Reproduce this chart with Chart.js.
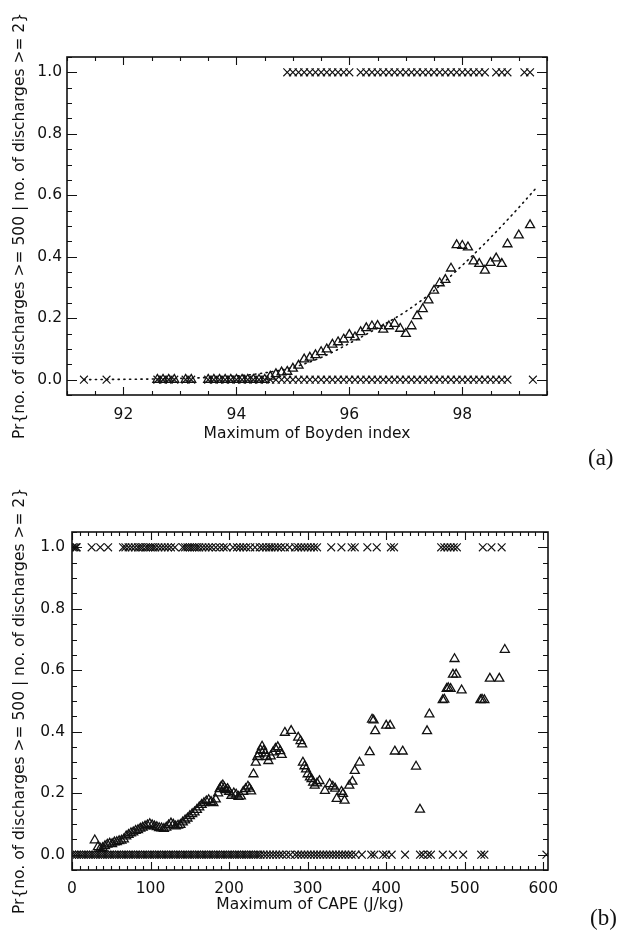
<!DOCTYPE html>
<html><head><meta charset="utf-8">
<script src="https://cdn.jsdelivr.net/npm/chart.js@4.4.0/dist/chart.umd.min.js"></script>
<style>
html,body{margin:0;padding:0;background:#fff;}
#wrap{position:relative;width:622px;height:936px;overflow:hidden;}
canvas{position:absolute;left:0;}
#ca{top:0}
#cb{top:468px}
.lbl{position:absolute;font-family:"Liberation Serif","DejaVu Serif",serif;font-size:23px;color:#111;line-height:1}
</style></head>
<body><div id="wrap">
<canvas id="ca" width="622" height="468"></canvas>
<canvas id="cb" width="622" height="468"></canvas>
<div class="lbl" style="left:588px;top:446px">(a)</div>
<div class="lbl" style="left:590px;top:906px">(b)</div>
</div>
<script>
// ---------- Panel (a): Boyden index ----------
const boydenOnesX = [94.9,95.0,95.1,95.2,95.3,95.4,95.5,95.6,95.7,95.8,95.9,96.0,
  96.2,96.3,96.4,96.5,96.6,96.7,96.8,96.9,97.0,97.1,97.2,97.3,97.4,97.5,97.6,97.7,97.8,97.9,98.0,98.1,98.2,98.3,98.4,
  98.6,98.7,98.8,99.1,99.2];
const boydenZerosX = [91.3,91.7,92.6,92.7,92.8,92.9,93.1,93.2,
  93.5,93.6,93.7,93.8,93.9,94.0,94.1,94.2,94.3,94.4,94.5,
  94.6,94.7,94.8,94.9,95.0,95.1,95.2,95.3,95.4,95.5,95.6,95.7,95.8,95.9,96.0,96.1,96.2,96.3,96.4,96.5,96.6,96.7,96.8,96.9,
  97.0,97.1,97.2,97.3,97.4,97.5,97.6,97.7,97.8,97.9,98.0,98.1,98.2,98.3,98.4,98.5,98.6,98.7,98.8,99.25];
const boydenTriX = [92.6,92.7,92.8,92.9,93.1,93.2,93.5,93.6,93.7,93.8,93.9,94.0,94.1,94.2,94.3,94.4,94.5,
  94.6,94.7,94.8,94.9,95.0,95.1,95.2,95.3,95.4,95.5,95.6,95.7,95.8,95.9,96.0,96.1,96.2,96.3,96.4,96.5,96.6,96.7,96.8,96.9,
  97.0,97.1,97.2,97.3,97.4,97.5,97.6,97.7,97.8,97.9,98.0,98.1,98.2,98.3,98.4,98.5,98.6,98.7,98.8,99.0,99.2];
const boydenTriY = [0,0,0,0,0,0,0,0,0,0,0,0,0,0,0,0,0,
  0.010,0.018,0.024,0.026,0.036,0.046,0.066,0.072,0.080,0.090,0.099,0.114,0.122,0.131,0.146,0.138,0.155,0.168,0.174,0.175,0.163,0.174,0.182,0.166,
  0.149,0.174,0.207,0.230,0.258,0.290,0.314,0.325,0.362,0.438,0.436,0.431,0.385,0.377,0.355,0.380,0.395,0.377,0.441,0.470,0.503];
const boydenFitX = [91.3,92.0,92.5,93.0,93.5,94.0,94.5,95.0,95.5,96.0,96.5,97.0,97.5,98.0,98.5,99.0,99.3];
const boydenFitY = [0.000,0.001,0.002,0.004,0.007,0.012,0.022,0.040,0.072,0.118,0.168,0.222,0.290,0.372,0.462,0.560,0.622];
const boydenTicks = [92,94,96,98];

// ---------- Panel (b): CAPE ----------
const capeOnesX = [1,3,5,6,25,36,46,
  65,68,72,76,80,84,87,90,94,97,100,103,106,110,114,118,122,126,131,
  141,144,147,150,153,156,159,162,166,170,174,178,183,188,193,197,
  205,210,214,218,222,227,233,239,
  243,247,251,254,258,262,266,271,277,
  284,288,292,296,300,304,308,312,
  330,343,356,360,376,388,406,410,
  470,474,478,482,486,490,523,534,547];
const capeZerosX = [0,3,6,9,12,15,18,21,24,27,30,33,36,39,42,45,48,51,54,57,60,63,66,69,72,75,78,81,84,87,90,93,96,99,
  102,105,108,111,114,117,120,123,126,129,132,135,138,141,144,147,150,153,156,159,162,165,168,171,174,177,180,183,186,189,
  192,195,198,201,204,207,210,213,216,219,222,225,228,231,234,237,240,
  244,248,252,256,260,264,268,273,278,284,288,292,296,300,304,308,312,316,320,324,328,332,336,340,344,348,352,356,361,
  369,381,385,396,400,407,424,443,447,453,457,472,485,498,521,525,604];
const capeTriX = [29,33,36,39,42,45,48,51,54,57,60,63,66,69,72,75,78,81,84,87,90,93,96,99,102,105,108,111,114,117,120,123,126,129,
  132,135,138,141,144,147,150,153,156,159,162,165,168,171,174,177,180,183,186,188,190,192,194,196,198,200,203,206,209,212,215,218,
  221,224,226,228,231,234,236,238,240,242,244,246,248,250,253,256,259,262,265,267,271,279,288,291,293,294,296,298,300,303,305,307,
  309,312,315,322,328,332,335,337,343,345,347,353,357,360,366,379,382,384,386,400,405,411,421,438,443,452,455,472,474,477,479,482,
  485,487,489,496,520,522,525,532,544,551];
const capeTriY = [0.047,0.025,0.020,0.022,0.028,0.033,0.036,0.035,0.040,0.041,0.044,0.046,0.050,0.060,0.065,0.070,0.073,0.078,0.080,
  0.085,0.088,0.092,0.096,0.100,0.096,0.092,0.090,0.087,0.086,0.084,0.088,0.096,0.102,0.098,
  0.092,0.095,0.097,0.105,0.112,0.118,0.126,0.132,0.138,0.146,0.154,0.162,0.168,0.174,0.178,0.172,0.168,0.180,0.200,0.214,0.222,0.226,
  0.218,0.210,0.214,0.205,0.192,0.200,0.196,0.188,0.190,0.205,
  0.214,0.222,0.215,0.206,0.262,0.300,0.318,0.327,0.340,0.352,0.338,0.330,0.318,0.305,0.320,0.333,0.345,0.350,0.337,0.325,0.397,0.403,
  0.381,0.370,0.359,0.300,0.288,0.278,0.262,0.252,0.246,0.235,
  0.225,0.232,0.240,0.208,0.230,0.222,0.215,0.182,0.205,0.198,0.176,0.225,0.238,0.273,0.300,0.334,0.440,0.437,0.402,0.420,0.420,0.336,
  0.336,0.287,0.147,0.402,0.457,0.503,0.505,0.540,0.542,0.540,
  0.586,0.637,0.586,0.535,0.503,0.505,0.503,0.573,0.573,0.667];
const capeTicks = [0,100,200,300,400,500,600];
const probTicks = [0,0.2,0.4,0.6,0.8,1.0];

const yTitle = 'Pr{no. of discharges >= 500 | no. of discharges >= 2}';
const INK = '#111';
const FONT = {family:'"DejaVu Sans", sans-serif', size:15.5};

const frameTicks = {
  id:'frameTicks',
  afterDraw(chart, args, o){
    const {ctx, chartArea:a, scales:{x,y}} = chart;
    const loop = (min,max,step,fn)=>{const n0=Math.ceil(min/step-1e-6), n1=Math.floor(max/step+1e-6); for(let n=n0;n<=n1;n++) fn(n*step);};
    const major = (v,m)=>Math.abs(v/m-Math.round(v/m))<1e-6;
    ctx.save();
    ctx.strokeStyle=INK; ctx.lineWidth=1.1;
    ctx.beginPath();
    loop(x.min,x.max,o.xMinor,v=>{
      const p=Math.round(x.getPixelForValue(v))+0.5, L=major(v,o.xMajor)?o.xMajorLen:o.xMinorLen;
      ctx.moveTo(p,a.bottom); ctx.lineTo(p,a.bottom-L);
      ctx.moveTo(p,a.top); ctx.lineTo(p,a.top+L);
    });
    loop(y.min,y.max,o.yMinor,v=>{
      const p=Math.round(y.getPixelForValue(v))+0.5, L=major(v,o.yMajor)?o.yMajorLen:o.yMinorLen;
      ctx.moveTo(a.left,p); ctx.lineTo(a.left+L,p);
      ctx.moveTo(a.right,p); ctx.lineTo(a.right-L,p);
    });
    ctx.stroke();
    ctx.lineWidth=1.6;
    ctx.strokeRect(a.left,a.top,a.right-a.left,a.bottom-a.top);
    ctx.restore();
  }
};

function pts(xs, ys){ return xs.map((v,i)=>({x:v, y:Array.isArray(ys)?ys[i]:ys})); }

function makeChart(id, cfg){
  return new Chart(document.getElementById(id), {
    type:'scatter',
    data:{datasets:[
      {data:pts(cfg.onesX,1), pointStyle:'crossRot', pointRadius:5.5, borderColor:INK, backgroundColor:INK, pointBorderWidth:1.1},
      {data:pts(cfg.zerosX,0), pointStyle:'crossRot', pointRadius:5.5, borderColor:INK, backgroundColor:INK, pointBorderWidth:1.1},
      {data:pts(cfg.triX,cfg.triY), pointStyle:'triangle', pointRadius:5.2, borderColor:INK, backgroundColor:'rgba(0,0,0,0)', pointBorderWidth:1.3},
      ...(cfg.fitX ? [{data:pts(cfg.fitX,cfg.fitY), showLine:true, pointRadius:0, borderColor:INK, borderWidth:1.6,
        borderDash:[1.2,4.5], borderCapStyle:'round', cubicInterpolationMode:'monotone', fill:false}] : [])
    ]},
    options:{
      responsive:false, animation:false, events:[],
      layout:{padding:cfg.pad},
      plugins:{legend:{display:false}, tooltip:{enabled:false},
        frameTicks:{xMinor:cfg.xMinor, xMajor:cfg.xMajor, yMinor:0.05, yMajor:0.2, xMajorLen:8, xMinorLen:4, yMajorLen:10, yMinorLen:5}},
      scales:{
        x:{type:'linear', min:cfg.xMin, max:cfg.xMax,
          afterBuildTicks:s=>{s.ticks=cfg.xTicks.map(v=>({value:v}));},
          afterFit:s=>{s.height=50;},
          grid:{display:false, drawTicks:false}, border:{display:false},
          ticks:{font:FONT, color:INK, padding:cfg.xTickPad, maxRotation:0, callback:v=>String(v)},
          title:{display:true, text:cfg.xTitle, font:FONT, color:INK, padding:{top:0,bottom:cfg.xTitlePad}}},
        y:{type:'linear', min:-0.05, max:1.05,
          afterBuildTicks:s=>{s.ticks=probTicks.map(v=>({value:v}));},
          afterFit:s=>{s.width=cfg.yWidth;},
          grid:{display:false, drawTicks:false}, border:{display:false},
          ticks:{font:FONT, color:INK, padding:cfg.yTickPad, callback:v=>Number(v).toFixed(1)},
          title:{display:true, text:yTitle, font:FONT, color:INK, padding:{top:10.7,bottom:0}}}
      }
    },
    plugins:[frameTicks]
  });
}

makeChart('ca', {onesX:boydenOnesX, zerosX:boydenZerosX, triX:boydenTriX, triY:boydenTriY, fitX:boydenFitX, fitY:boydenFitY,
  xMin:91, xMax:99.5, xTicks:boydenTicks, xMinor:0.5, xMajor:2, xTitle:'Maximum of Boyden index',
  pad:{left:0,right:75,top:57,bottom:23}, yWidth:67, xTickPad:11, xTitlePad:1.7, yTickPad:5});
makeChart('cb', {onesX:capeOnesX, zerosX:capeZerosX, triX:capeTriX, triY:capeTriY,
  xMin:0, xMax:606, xTicks:capeTicks, xMinor:10, xMajor:100, xTitle:'Maximum of CAPE (J/kg)',
  pad:{left:0,right:74,top:64,bottom:16}, yWidth:72, xTickPad:10, xTitlePad:5.7, yTickPad:7});
</script>
</body></html>
